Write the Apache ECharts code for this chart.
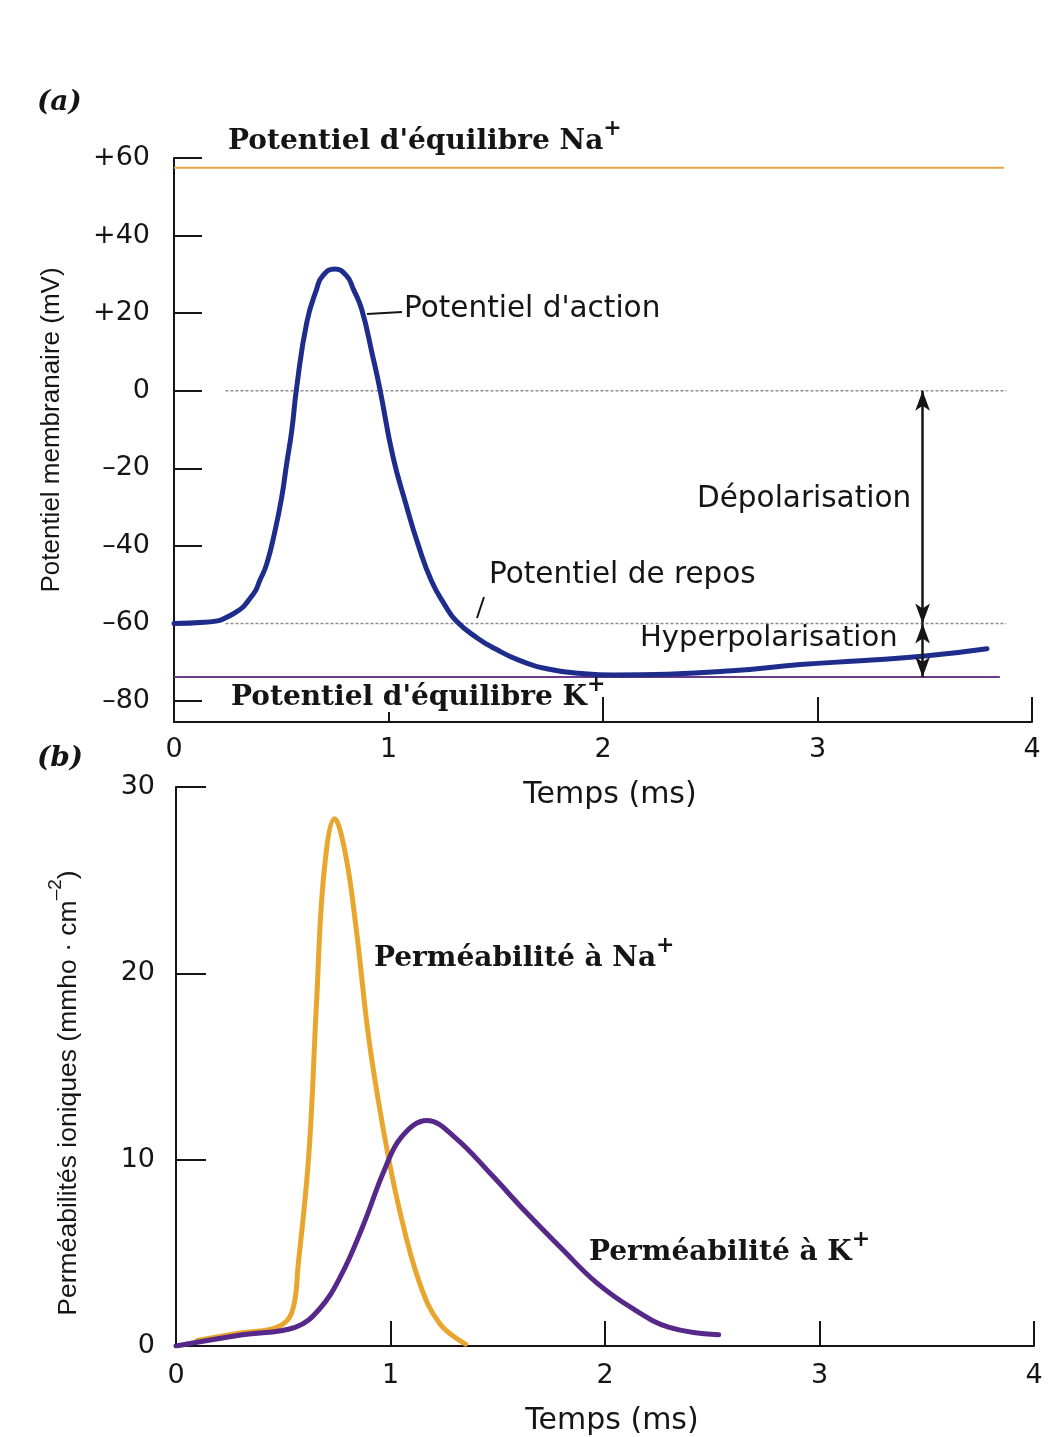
<!DOCTYPE html>
<html>
<head>
<meta charset="utf-8">
<title>Potentiel d'action et perméabilités ioniques</title>
<script src="https://cdn.jsdelivr.net/npm/echarts@6/dist/echarts.min.js"></script>
<style>
  html, body { margin: 0; padding: 0; background: #ffffff; }
  #chart { width: 1053px; height: 1437px; }
</style>
</head>
<body>
<div id="chart"></div>
<script>
// ---- (a) membrane potential over time ----
const apTime = [0, 0.14, 0.277, 0.37, 0.40, 0.432, 0.471, 0.502, 0.525, 0.549, 0.572, 0.619, 0.665, 0.693, 0.75, 0.805, 0.836, 0.875, 0.926, 0.96, 1.02, 1.08, 1.14, 1.20, 1.26, 1.315, 1.41, 1.50, 1.61, 1.75, 1.90, 2.05, 2.30, 2.60, 2.92, 3.20, 3.50, 3.79];
const apVoltage = [-60, -59.7, -57.5, -52.4, -48.9, -44.7, -36.1, -27.5, -18.9, -10.3, 0.9, 17.6, 26.2, 29.6, 31.4, 29.6, 26.2, 21.0, 9.0, 0.4, -16.8, -29, -40, -49, -55, -59.3, -63.6, -66.6, -69.5, -71.8, -72.9, -73.3, -73.1, -72.2, -70.6, -69.6, -68.4, -66.5];

// reference potentials (mV) and the time span (ms) each line covers
const naEquilibrium = 57.5;
const kEquilibrium = -73.8;
const restingPotential = -60;
const zeroPotential = 0;
const naLineSpan = [0, 3.87];
const kLineSpan = [0, 3.85];
const dottedSpan = [0.24, 3.88];
const arrowTime = 3.49;

const voltageTicks = [60, 40, 20, 0, -20, -40, -60, -80];
const voltageTickLabels = ['+60', '+40', '+20', '0', '\u201320', '\u201340', '\u201360', '\u201380'];

// ---- (b) ionic permeabilities over time ----
const naTime = [0.1, 0.3, 0.47, 0.54, 0.57, 0.62, 0.655, 0.69, 0.74, 0.79, 0.84, 0.90, 0.97, 1.04, 1.135, 1.23, 1.35];
const naPerm = [0.3, 0.7, 1.0, 1.8, 4.4, 10.4, 18.4, 25.4, 28.3, 26.4, 22.4, 16.4, 11.4, 7.4, 3.4, 1.2, 0.1];
const kTime = [0, 0.31, 0.555, 0.67, 0.77, 0.87, 0.97, 1.05, 1.17, 1.30, 1.47, 1.63, 1.80, 1.96, 2.13, 2.30, 2.53];
const kPerm = [0, 0.6, 1.0, 2.0, 3.8, 6.4, 9.4, 11.2, 12.1, 11.2, 9.2, 7.2, 5.2, 3.4, 2.0, 1.0, 0.6];

const pairs = (xs, ys) => xs.map((x, i) => [x, ys[i]]);
const hLine = (span, v) => [[span[0], v], [span[1], v]];

const INK = '#151515';
const SANS = 'DejaVu Sans';
const TITLE_SANS = 'Liberation Sans';
const SERIF = 'DejaVu Serif';

// serif bold labels with a raised "+"
const serifRich = {
  n: { fontFamily: SERIF, fontWeight: 'bold', fontSize: 28, lineHeight: 38, verticalAlign: 'bottom', fill: INK },
  sup: { fontFamily: SERIF, fontWeight: 'bold', fontSize: 22, lineHeight: 22, verticalAlign: 'top', fill: INK }
};

const chart = echarts.init(document.getElementById('chart'), null, { renderer: 'canvas' });

const axisLineStyle = { show: true, onZero: false, lineStyle: { color: INK, width: 2 } };
const labelStyle = { color: INK, fontFamily: SANS, fontSize: 27 };
const tickStyle = { color: INK, width: 2 };

const option = {
  backgroundColor: '#ffffff',
  animation: false,
  grid: [
    { left: 174, top: 158, width: 858, height: 564 },
    { left: 176, top: 787, width: 858, height: 567 }
  ],
  xAxis: [
    {
      gridIndex: 0, type: 'value', min: 0, max: 4, interval: 1,
      axisLine: axisLineStyle,
      axisTick: { show: true, inside: true, length: 25, lineStyle: tickStyle },
      axisLabel: Object.assign({ margin: 14 }, labelStyle),
      splitLine: { show: false },
      name: 'Temps (ms)', nameLocation: 'middle', nameGap: 58,
      nameTextStyle: { color: INK, fontFamily: SANS, fontSize: 30, padding: [0, 0, 0, 14] }
    },
    {
      gridIndex: 1, type: 'value', min: 0, max: 4, interval: 1,
      axisLine: axisLineStyle,
      axisTick: { show: true, inside: true, length: 25, lineStyle: tickStyle },
      axisLabel: Object.assign({ margin: 16 }, labelStyle),
      splitLine: { show: false },
      name: 'Temps (ms)', nameLocation: 'middle', nameGap: 60,
      nameTextStyle: { color: INK, fontFamily: SANS, fontSize: 30, padding: [0, 0, 0, 14] }
    }
  ],
  yAxis: [
    {
      gridIndex: 0, type: 'value', min: -85.4, max: 60,
      axisLine: axisLineStyle,
      axisTick: { show: true, inside: true, length: 28, customValues: voltageTicks, lineStyle: tickStyle },
      axisLabel: Object.assign({
        margin: 24, customValues: voltageTicks,
        formatter: v => voltageTickLabels[voltageTicks.indexOf(Math.round(v))] || ''
      }, labelStyle),
      splitLine: { show: false }
    },
    {
      gridIndex: 1, type: 'value', min: 0, max: 30, interval: 10,
      axisLine: axisLineStyle,
      axisTick: { show: true, inside: true, length: 30, lineStyle: tickStyle },
      axisLabel: Object.assign({ margin: 21 }, labelStyle),
      splitLine: { show: false }
    }
  ],
  series: [
    {
      name: 'Potentiel d\u2019équilibre Na+', type: 'line', xAxisIndex: 0, yAxisIndex: 0,
      data: hLine(naLineSpan, naEquilibrium), symbol: 'none', silent: true,
      lineStyle: { color: '#e3a444', width: 2 }
    },
    {
      name: 'Potentiel d\u2019équilibre K+', type: 'line', xAxisIndex: 0, yAxisIndex: 0,
      data: hLine(kLineSpan, kEquilibrium), symbol: 'none', silent: true,
      lineStyle: { color: '#6a3b86', width: 2 }
    },
    {
      name: 'zéro', type: 'line', xAxisIndex: 0, yAxisIndex: 0,
      data: hLine(dottedSpan, zeroPotential), symbol: 'none', silent: true,
      lineStyle: { color: '#8f8f8f', width: 1.5, type: [3, 2] }
    },
    {
      name: 'repos', type: 'line', xAxisIndex: 0, yAxisIndex: 0,
      data: hLine(dottedSpan, restingPotential), symbol: 'none', silent: true,
      lineStyle: { color: '#8f8f8f', width: 1.5, type: [3, 2] }
    },
    {
      name: 'Potentiel d\u2019action', type: 'line', xAxisIndex: 0, yAxisIndex: 0,
      data: pairs(apTime, apVoltage), symbol: 'none', smooth: 0.5,
      lineStyle: { color: '#1e2d8c', width: 5, join: 'round', cap: 'round' },
      markLine: {
        silent: true, symbol: ['arrow', 'arrow'], symbolSize: [11, 20],
        label: { show: false },
        lineStyle: { color: INK, width: 2.5, type: 'solid' },
        data: [
          [{ coord: [arrowTime, zeroPotential] }, { coord: [arrowTime, restingPotential] }],
          [{ coord: [arrowTime, restingPotential] }, { coord: [arrowTime, kEquilibrium] }]
        ]
      }
    },
    {
      name: 'Perméabilité à Na+', type: 'line', xAxisIndex: 1, yAxisIndex: 1,
      data: pairs(naTime, naPerm), symbol: 'none', smooth: 0.4,
      lineStyle: { color: '#e8a62e', width: 5, join: 'round', cap: 'round' }
    },
    {
      name: 'Perméabilité à K+', type: 'line', xAxisIndex: 1, yAxisIndex: 1,
      data: pairs(kTime, kPerm), symbol: 'none', smooth: 0.4,
      lineStyle: { color: '#55288a', width: 5, join: 'round', cap: 'round' }
    }
  ],
  graphic: [
    // panel letters
    { type: 'text', left: 37, top: 89, style: { text: '(a)', fill: INK, font: 'italic bold 28px "DejaVu Serif"' } },
    { type: 'text', left: 37, top: 745, style: { text: '(b)', fill: INK, font: 'italic bold 28px "DejaVu Serif"' } },
    // vertical axis titles
    {
      type: 'text', x: 52, y: 430, rotation: Math.PI / 2,
      style: { text: 'Potentiel membranaire (mV)', fill: INK, fontFamily: TITLE_SANS, fontSize: 26, align: 'center', verticalAlign: 'middle' }
    },
    {
      type: 'text', x: 64, y: 1093, rotation: Math.PI / 2,
      style: {
        text: '{n|Perméabilités ioniques (mmho \u00b7 cm}{sup|\u20132}{n|)}', align: 'center', verticalAlign: 'middle',
        rich: {
          n: { fontFamily: TITLE_SANS, fontSize: 26.5, lineHeight: 36, verticalAlign: 'bottom', fill: INK },
          sup: { fontFamily: TITLE_SANS, fontSize: 19, lineHeight: 19, verticalAlign: 'top', fill: INK }
        }
      }
    },
    // annotations, panel (a)
    {
      type: 'text', left: 228, top: 118,
      style: { text: '{n|Potentiel d\'équilibre Na}{sup|+}', rich: serifRich }
    },
    { type: 'line', shape: { x1: 367, y1: 314, x2: 402, y2: 312 }, style: { stroke: INK, lineWidth: 2 } },
    { type: 'text', left: 404, top: 294, style: { text: 'Potentiel d\'action', fill: INK, fontFamily: SANS, fontSize: 29.5 } },
    { type: 'text', left: 697, top: 484, style: { text: 'Dépolarisation', fill: INK, fontFamily: SANS, fontSize: 29.5 } },
    { type: 'text', left: 489, top: 560, style: { text: 'Potentiel de repos', fill: INK, fontFamily: SANS, fontSize: 29.5 } },
    { type: 'line', shape: { x1: 477, y1: 618, x2: 484, y2: 597 }, style: { stroke: INK, lineWidth: 2 } },
    { type: 'text', left: 640, top: 624, style: { text: 'Hyperpolarisation', fill: INK, fontFamily: SANS, fontSize: 29 } },
    // white knockout under the K+ label, so the 1 ms tick stops beneath the lettering
    { type: 'rect', z: 9, shape: { x: 378, y: 692, width: 22, height: 20 }, style: { fill: '#ffffff' } },
    {
      type: 'text', left: 231, top: 674, z: 10,
      style: { text: '{n|Potentiel d\'équilibre K}{sup|+}', rich: serifRich }
    },
    // annotations, panel (b)
    {
      type: 'text', left: 374, top: 935,
      style: { text: '{n|Perméabilité à Na}{sup|+}', rich: serifRich }
    },
    {
      type: 'text', left: 589, top: 1229,
      style: { text: '{n|Perméabilité à K}{sup|+}', rich: serifRich }
    }
  ]
};

chart.setOption(option);
</script>
</body>
</html>
